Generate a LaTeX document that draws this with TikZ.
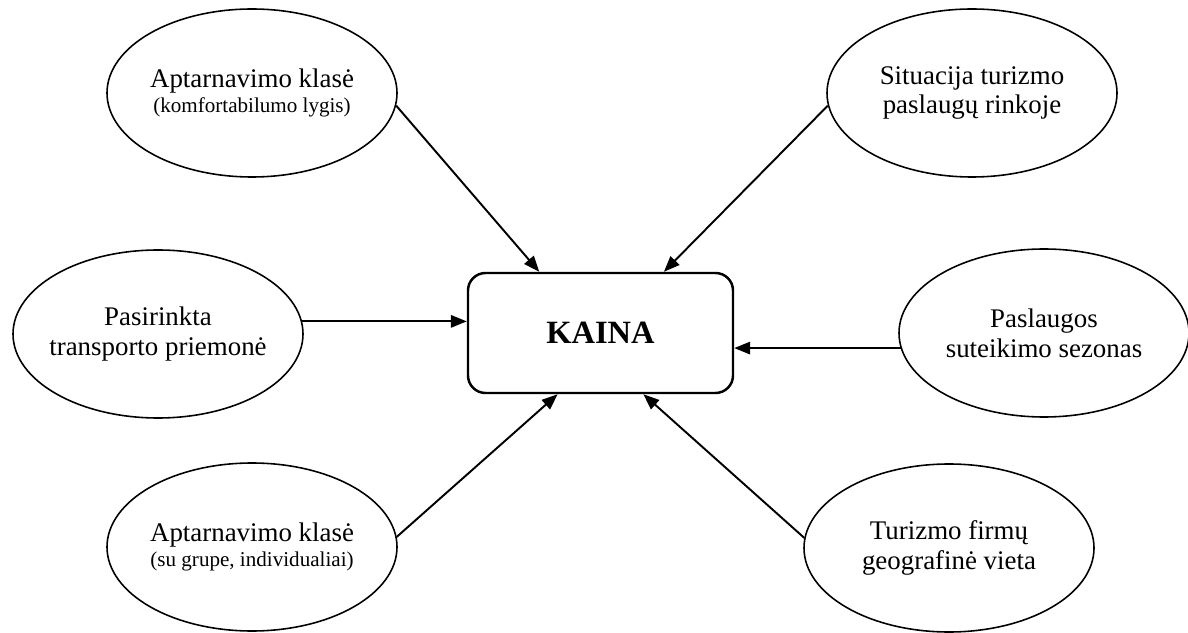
\documentclass[tikz,border=0pt]{standalone}
\usepackage{fontspec}
\setmainfont{Liberation Serif}
\usetikzlibrary{arrows.meta,shapes.geometric}
\newcommand{\bigline}{\fontsize{15.3}{17}\selectfont}
\newcommand{\smallline}{\fontsize{12}{13.5}\selectfont}
\begin{document}
\begin{tikzpicture}[
    factor/.style={draw, ellipse, line width=0.9pt, inner ysep=0pt, inner xsep=-0.8cm,
        minimum width=5.8cm, minimum height=3.36cm, align=center, font=\bigline},
    price/.style={draw, rounded corners=0.35cm, line width=1.4pt,
        minimum width=5.3cm, minimum height=2.4cm, font=\fontsize{18.5}{20}\selectfont\bfseries},
    link/.style={-{Triangle[length=9pt, width=7pt]}, line width=1.1pt}]
                \useasboundingbox (0, 0) rectangle (23.76, 12.64);
                \node [price] (kaina) at (12.01, 5.98) {KAINA};
                \node [factor] (klase) at (5.04, 10.78) {Aptarnavimo klasė\\[-3pt]{\smallline(komfortabilumo lygis)}};
                \node [factor] (situacija) at (19.44, 10.78) {Situacija turizmo\\paslaugų rinkoje};
                \node [factor] (transportas) at (3.16, 5.96) {Pasirinkta\\transporto priemonė};
                \node [factor] (sezonas) at (20.88, 5.98) {Paslaugos\\suteikimo sezonas};
                \node [factor] (grupe) at (5.04, 1.70) {Aptarnavimo klasė\\[-3pt]{\smallline(su grupe, individualiai)}};
                \node [factor] (vieta) at (18.98, 1.68) {Turizmo firmų\\geografinė vieta};
                \draw [link] (klase.-5) -- (kaina.135);
                \draw [link] (situacija.185) -- (kaina.44);
                \draw [link] (transportas.5) -- (transportas.5 -| kaina.west);
                \draw [link] (sezonas.186) -- (sezonas.186 -| kaina.east);
                \draw [link] (grupe.4) -- (kaina.235);
                \draw [link] (vieta.176) -- (kaina.305);
            \end{tikzpicture}
\end{document}
